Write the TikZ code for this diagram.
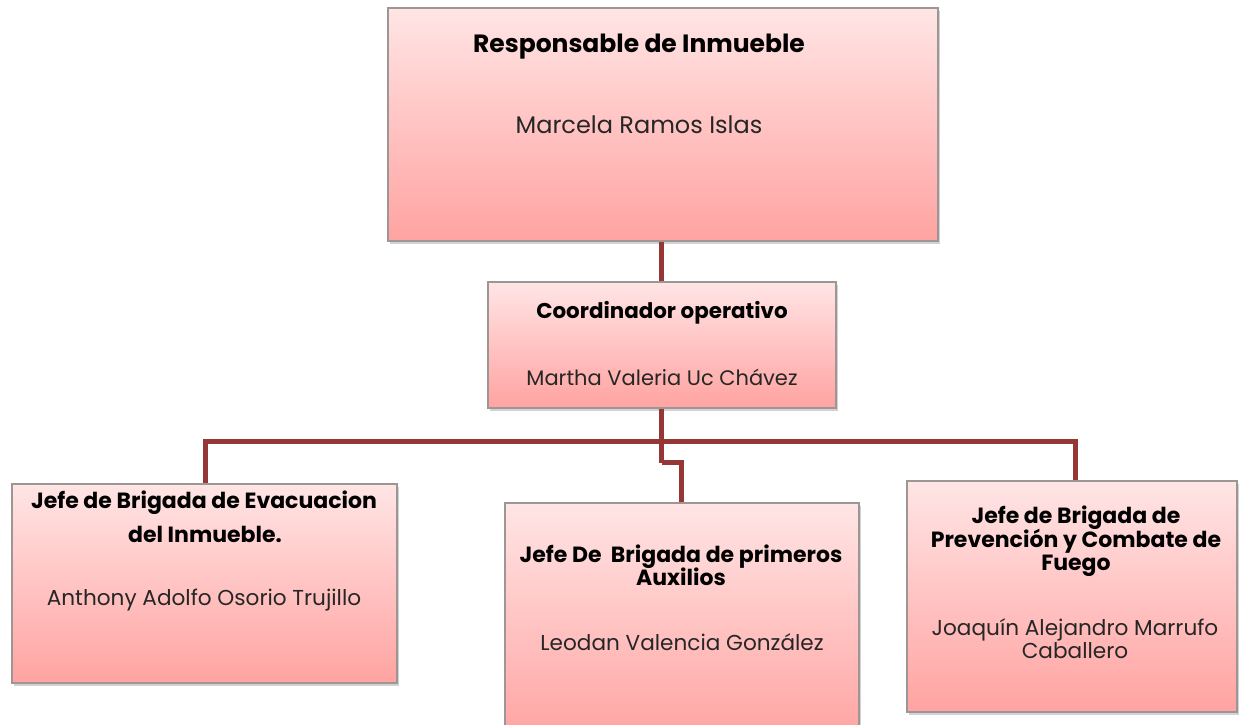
\documentclass[tikz,border=0pt]{standalone}
\usepackage{fontspec}
\setmainfont{Poppins}
\usetikzlibrary{shadows}
\definecolor{conn}{HTML}{953735}
\definecolor{boxtop}{HTML}{FFE5E5}
\definecolor{boxbot}{HTML}{FFA3A1}
\definecolor{boxedge}{HTML}{9E9595}
\tikzset{
  orgbox/.style={rectangle, draw=boxedge, line width=1.2pt, top color=boxtop, bottom color=boxbot,
    drop shadow={opacity=0.35, shadow xshift=2pt, shadow yshift=-3pt}, inner sep=0pt},
  conline/.style={draw=conn, line width=5pt},
  ttl/.style={anchor=base, inner sep=0pt, font=\bfseries\fontsize{22}{26}\selectfont},
  nm/.style={anchor=base, inner sep=0pt, font=\fontsize{21.6}{26}\selectfont, text=black!85},
}
\begin{document}
\begin{tikzpicture}[x=1pt,y=-1pt]
\clip (0,0) rectangle (1243,725);
\fill[white] (0,0) rectangle (1243,725);
% boxes
\node[orgbox, minimum width=550pt, minimum height=233pt] (top) at (663,124.5) {};
\node[orgbox, minimum width=348pt, minimum height=126pt] (coord) at (662,345) {};
\node[orgbox, minimum width=385pt, minimum height=199pt] (left) at (204.5,583.5) {};
\node[orgbox, minimum width=354pt, minimum height=240pt] (mid) at (682,623) {};
\node[orgbox, minimum width=330pt, minimum height=231pt] (right) at (1072,596.5) {};
% connectors
\coordinate (j) at (661.5,441.5);
\coordinate (k) at (661.5,462.5);
\draw[conline] (top.south -| j) -- (coord.north -| j);
\draw[conline] (coord.south -| j) -- (k);
\draw[conline] (left.north -| 205,0) |- (j) -| (right.north -| 1075.5,0);
\draw[conline] (k) -| (mid.north -| 681,0);
% texts
\node[ttl, font=\bfseries\fontsize{25}{30}\selectfont] (t1) at (639,53) {Responsable de Inmueble};
\node[nm, font=\fontsize{24}{28}\selectfont] (n1) at (639,133) {Marcela Ramos Islas};
\node[ttl, font=\bfseries\fontsize{21.4}{26}\selectfont] (t2) at (662,318) {Coordinador operativo};
\node[nm, font=\fontsize{21}{26}\selectfont] (n2) at (662,385) {Martha Valeria Uc Chávez};
\node[ttl] (t3a) at (204,508) {Jefe de Brigada de Evacuacion};
\node[ttl] (t3b) at (205,542) {del Inmueble.};
\node[nm] (n3) at (204,605) {Anthony Adolfo Osorio Trujillo};
\node[ttl] (t4a) at (681,562) {Jefe De\ \ Brigada de primeros};
\node[ttl] (t4b) at (681,585) {Auxilios};
\node[nm] (n4) at (682,650) {Leodan Valencia González};
\node[ttl] (t5a) at (1076,523) {Jefe de Brigada de};
\node[ttl] (t5b) at (1076,547) {Prevención y Combate de};
\node[ttl] (t5c) at (1076,570) {Fuego};
\node[nm] (n5a) at (1075,635) {Joaquín Alejandro Marrufo};
\node[nm] (n5b) at (1075,658) {Caballero};
\end{tikzpicture}
\end{document}
